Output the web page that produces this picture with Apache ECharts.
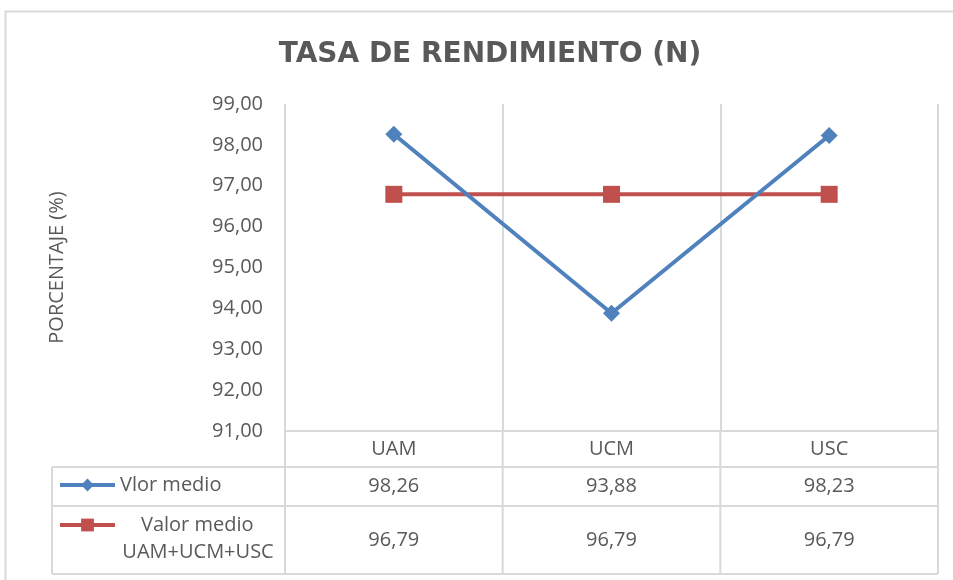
<!DOCTYPE html>
<html>
<head>
<meta charset="utf-8">
<script src="https://cdn.jsdelivr.net/npm/echarts@6/dist/echarts.min.js"></script>
<style>
  html, body { margin: 0; padding: 0; background: #fff; }
  #chart { width: 953px; height: 580px; }
</style>
</head>
<body>
<div id="chart"></div>
<script>
const categories = ["UAM", "UCM", "USC"];
const vlorMedio = [98.26, 93.88, 98.23];
const valorMedioTotal = [96.79, 96.79, 96.79];
const seriesNames = ["Vlor medio", "Valor medio UAM+UCM+USC"];

const textColor = "#595959";
const lineColor = "#d9d9d9";
const font = "'Open Sans', 'Liberation Sans', sans-serif";

const fmt = (v) => v.toFixed(2).replace(".", ",");

const chart = echarts.init(document.getElementById("chart"));

chart.setOption({
  animation: false,
  title: {
    text: "TASA DE RENDIMIENTO (N)",
    left: 485,
    top: 36,
    textAlign: "center",
    textStyle: {
      color: textColor,
      fontFamily: "'DejaVu Sans', sans-serif",
      fontWeight: "bold",
      fontSize: 28
    }
  },
  grid: { left: 285, right: 15, top: 104, bottom: 149 },
  legend: [
    {
      data: [seriesNames[0]],
      left: 58,
      top: 475,
      padding: 0,
      itemWidth: 55,
      itemHeight: 16,
      selectedMode: false,
      lineStyle: { width: 4 },
      textStyle: { color: textColor, fontFamily: font, fontSize: 20 }
    },
    {
      data: [seriesNames[1]],
      left: 58,
      top: 515,
      padding: 0,
      itemWidth: 55,
      itemHeight: 16,
      selectedMode: false,
      lineStyle: { width: 4 },
      formatter: () => "Valor medio",
      textStyle: { color: textColor, fontFamily: font, fontSize: 20, padding: [0, 0, 0, 21] }
    }
  ],
  xAxis: {
    type: "category",
    data: categories,
    axisTick: { show: false },
    axisLine: { lineStyle: { color: lineColor, width: 2 } },
    axisLabel: { color: textColor, fontFamily: font, fontSize: 20, margin: 8 },
    splitLine: { show: true, interval: 0, lineStyle: { color: lineColor, width: 2 } }
  },
  yAxis: {
    type: "value",
    min: 91,
    max: 99,
    interval: 1,
    name: "PORCENTAJE (%)",
    nameLocation: "middle",
    nameGap: 218,
    nameTextStyle: { color: textColor, fontFamily: font, fontSize: 20 },
    axisLine: { show: false },
    axisTick: { show: false },
    splitLine: { show: false },
    axisLabel: { color: textColor, fontFamily: font, fontSize: 20, margin: 22, formatter: fmt }
  },
  series: [
    {
      name: seriesNames[0],
      type: "line",
      data: vlorMedio,
      symbol: "diamond",
      symbolSize: 17,
      color: "#4f81bd",
      lineStyle: { width: 4 },
      z: 3
    },
    {
      name: seriesNames[1],
      type: "line",
      data: valorMedioTotal,
      symbol: "rect",
      symbolSize: 17,
      color: "#c0504d",
      lineStyle: { width: 4 },
      z: 2
    }
  ]
});

// data table under the plot, positioned from the axes
const centers = categories.map((c) => chart.convertToPixel({ xAxisIndex: 0 }, c));
const step = centers[1] - centers[0];
const bounds = [centers[0] - step / 2].concat(centers.map((c) => c + step / 2));
const yBase = chart.convertToPixel({ yAxisIndex: 0 }, 91);
const tableLeft = 52;
const rowTops = [yBase, yBase + 36, yBase + 75, yBase + 143];

const graphics = [
  {
    type: "rect",
    shape: { x: 5.5, y: 11.5, width: 1000, height: 700 },
    style: { fill: null, stroke: lineColor, lineWidth: 2 },
    silent: true
  }
];
const hLine = (x1, x2, y) => ({
  type: "line",
  shape: { x1, y1: y, x2, y2: y },
  style: { stroke: lineColor, lineWidth: 2 },
  silent: true
});
const vLine = (x, y1, y2) => ({
  type: "line",
  shape: { x1: x, y1, x2: x, y2 },
  style: { stroke: lineColor, lineWidth: 2 },
  silent: true
});
[rowTops[1], rowTops[2], rowTops[3]].forEach((y) => graphics.push(hLine(tableLeft, bounds[3], y)));
graphics.push(vLine(tableLeft, rowTops[1], rowTops[3]));
bounds.forEach((x) => graphics.push(vLine(x, yBase, rowTops[3])));

const cellText = (x, y, text) => ({
  type: "text",
  x,
  y,
  style: {
    text,
    fill: textColor,
    font: "20px " + font,
    align: "center",
    verticalAlign: "middle"
  },
  silent: true
});
[vlorMedio, valorMedioTotal].forEach((vals, r) => {
  const yMid = (rowTops[r + 1] + rowTops[r + 2]) / 2;
  vals.forEach((v, i) => graphics.push(cellText(centers[i], yMid, fmt(v))));
});
graphics.push(cellText(198, rowTops[2] + 46, "UAM+UCM+USC"));

chart.setOption({ graphic: graphics });
</script>
</body>
</html>
